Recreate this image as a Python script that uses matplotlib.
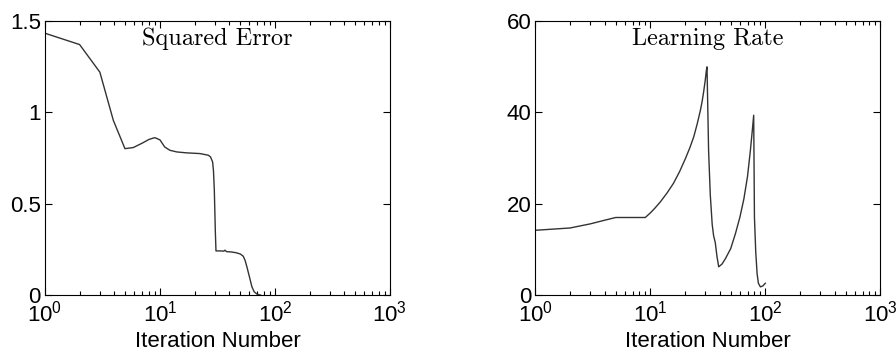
import matplotlib
matplotlib.use("Agg")
import matplotlib.pyplot as plt
from matplotlib.ticker import LogLocator, NullFormatter

plt.rcParams['font.family'] = ['Liberation Sans', 'DejaVu Sans']
plt.rcParams['mathtext.fontset'] = 'custom'
plt.rcParams['mathtext.rm'] = 'Liberation Sans'
plt.rcParams['mathtext.it'] = 'Liberation Sans'

# Squared error
err_iter = [1, 2, 3, 3.93, 4.96, 5.86, 7, 8, 8.75, 9.05, 10, 11, 12.2, 14, 17, 22.3, 26.3, 27.5, 28.7, 29.2, 29.7,
            30.3, 30.7, 33, 36, 36.7, 38, 42, 46, 50, 53, 55, 57, 60, 63, 66, 70, 75]
err_val = [1.434, 1.372, 1.221, 0.957, 0.802, 0.808, 0.832, 0.852, 0.860, 0.862, 0.850, 0.811, 0.793, 0.784, 0.779, 0.775, 0.766, 0.757, 0.729, 0.68, 0.574,
           0.35, 0.242, 0.242, 0.241, 0.246, 0.238, 0.236, 0.232, 0.225, 0.213, 0.19, 0.155, 0.10, 0.046, 0.018, 0.005, 0.0]

# Learning rate
lr_iter = [1, 2, 3, 4, 5, 6, 7, 8, 9.03, 10, 11, 12.2, 14, 15.9, 18, 20.1, 22, 23.8, 25.5, 27.2, 28.2, 29.1, 30.0, 30.7, 31.1,
           32.1, 33.2, 34.5, 35.5, 36.7, 38.0, 39.3, 42, 45, 50, 55, 60, 65, 70, 74, 77, 79.2,
           80.4, 82.5, 84.8, 87, 90.6, 95, 100]
lr_val = [14.2, 14.7, 15.6, 16.4, 17.0, 17.0, 17.0, 17.0, 17.0, 18.0, 19.1, 20.4, 22.4, 24.5, 27.1, 29.8, 32.2, 34.6, 37.4, 40.4, 42.4, 44.6, 47.0, 49.2, 50.0,
          31.7, 22.0, 15.5, 13.0, 11.5, 8.4, 6.2, 6.8, 8.0, 10.2, 13.5, 17.0, 21.0, 26.0, 31.5, 36.0, 39.4,
          17.1, 9.5, 4.7, 2.6, 1.8, 2.0, 2.6]

xticks = [1, 10, 100, 1000]
xticklabels = [r'$10^0$', r'$10^1$', r'$10^2$', r'$10^3$']

fig = plt.figure(figsize=(8.96, 3.53), dpi=100)
ax1 = fig.add_axes([0.0502, 0.164, 0.385, 0.776])
ax2 = fig.add_axes([0.5975, 0.164, 0.385, 0.776])

def style(ax, yticks, ylim, title):
    ax.set_xscale('log')
    ax.set_xlim(1, 1000)
    ax.set_ylim(*ylim)
    ax.set_xticks(xticks)
    ax.set_xticklabels(xticklabels)
    ax.xaxis.set_minor_locator(LogLocator(base=10, subs=range(2, 10), numticks=20))
    ax.xaxis.set_minor_formatter(NullFormatter())
    ax.set_yticks(yticks)
    ax.set_yticklabels([('%g' % t) for t in yticks])
    ax.tick_params(which='both', direction='in', top=True, right=True, labelsize=16, width=0.8)
    ax.tick_params(which='major', length=5, pad=3)
    ax.tick_params(axis='x', which='major', pad=4)
    ax.tick_params(which='minor', length=3)
    for s in ax.spines.values():
        s.set_linewidth(0.8)
    ax.set_xlabel('Iteration Number', fontsize=16, labelpad=3)
    ax.text(0.5, 0.935, title, transform=ax.transAxes, ha='center', va='center',
            fontsize=17.5, family='cmr10')

ax1.plot(err_iter, err_val, color='#333333', lw=1.0)
style(ax1, [0, 0.5, 1, 1.5], (0, 1.5), 'Squared Error')

ax2.plot(lr_iter, lr_val, color='#333333', lw=1.0)
style(ax2, [0, 20, 40, 60], (0, 60), 'Learning Rate')

fig.savefig('out.png', dpi=100)
